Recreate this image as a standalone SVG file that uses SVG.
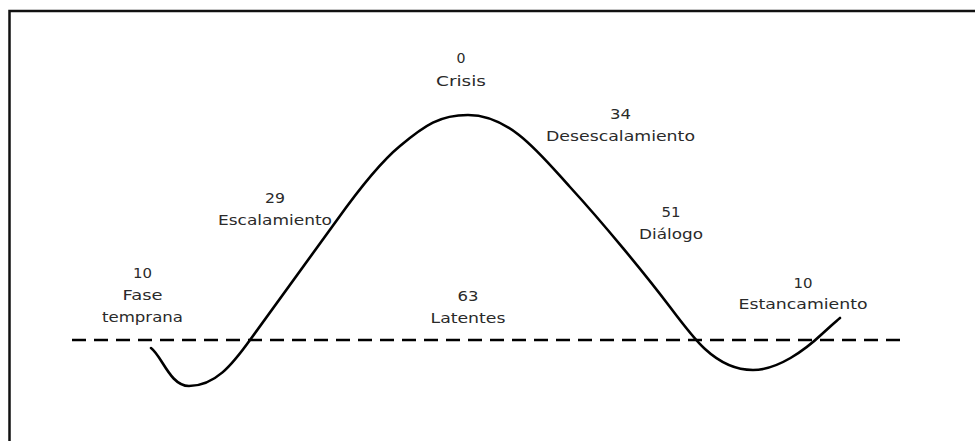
<svg xmlns="http://www.w3.org/2000/svg" width="975" height="441" viewBox="0 0 975 441">
<style>
.lbl{font-family:"DejaVu Sans","Liberation Sans",sans-serif;font-size:14px;fill:#2a2a2a;text-anchor:middle}
.frame{fill:none;stroke:#111;stroke-width:2.5}
.base{fill:none;stroke:#000;stroke-width:2.7;stroke-dasharray:14 8}
.curve{fill:none;stroke:#000;stroke-width:2.6;stroke-linecap:round;stroke-linejoin:round}
</style>
<rect width="975" height="441" fill="#fff"/>
<path class="frame" d="M9.5,450 V11 H985"/>
<g id="connectors">
<line class="base" x1="72" y1="340" x2="900" y2="340"/>
<path class="curve" d="M151,348 C162,356 170,386 189,386 C215,386 232,365 250,340 C279,300 308,260 337,220 C352,199 377,165 400,146 C425,125 440,115 468,115 C510,115 540,154 570,187 C603,223 645,274 670,307 C685,327 695,340 705,349 C718,361 733,370 753,370 C778,370 805,350 822,334 C830,327 835,322 840,318"/>
</g>
<g id="crisis">
<text class="lbl" x="461" y="63" textLength="9" lengthAdjust="spacingAndGlyphs">0</text>
<text class="lbl" x="461" y="86" textLength="50" lengthAdjust="spacingAndGlyphs">Crisis</text>
</g>
<g id="desescalamiento">
<text class="lbl" x="620.5" y="119" textLength="21" lengthAdjust="spacingAndGlyphs">34</text>
<text class="lbl" x="620.5" y="141" textLength="149" lengthAdjust="spacingAndGlyphs">Desescalamiento</text>
</g>
<g id="escalamiento">
<text class="lbl" x="275" y="203" textLength="20" lengthAdjust="spacingAndGlyphs">29</text>
<text class="lbl" x="275" y="225" textLength="114" lengthAdjust="spacingAndGlyphs">Escalamiento</text>
</g>
<g id="dialogo">
<text class="lbl" x="671" y="217" textLength="19" lengthAdjust="spacingAndGlyphs">51</text>
<text class="lbl" x="671" y="239" textLength="64" lengthAdjust="spacingAndGlyphs">Diálogo</text>
</g>
<g id="fase-temprana">
<text class="lbl" x="142.5" y="278" textLength="19" lengthAdjust="spacingAndGlyphs">10</text>
<text class="lbl" x="142.5" y="300" textLength="40" lengthAdjust="spacingAndGlyphs">Fase</text>
<text class="lbl" x="142.5" y="322" textLength="81" lengthAdjust="spacingAndGlyphs">temprana</text>
</g>
<g id="latentes">
<text class="lbl" x="468" y="301" textLength="21" lengthAdjust="spacingAndGlyphs">63</text>
<text class="lbl" x="468" y="323" textLength="75" lengthAdjust="spacingAndGlyphs">Latentes</text>
</g>
<g id="estancamiento">
<text class="lbl" x="803" y="288" textLength="19" lengthAdjust="spacingAndGlyphs">10</text>
<text class="lbl" x="803" y="309" textLength="129" lengthAdjust="spacingAndGlyphs">Estancamiento</text>
</g>
</svg>
